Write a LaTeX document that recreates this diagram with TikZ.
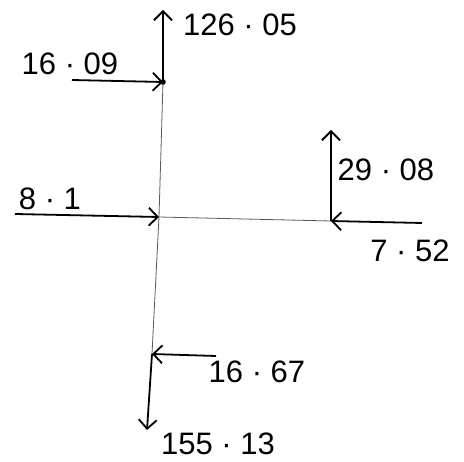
\documentclass[tikz,border=0pt]{standalone}
\usepackage{fontspec}
\setmainfont{Liberation Sans}
\usetikzlibrary{arrows.meta}
\begin{document}
\begin{tikzpicture}[x=1pt,y=-1pt,
  force/.style={line width=1.8pt,-{Straight Barb[length=9pt,width=18pt,line width=1.8pt]}},
  axis/.style={line width=0.8pt,draw=black!65},
  lbl/.style={font=\fontsize{31}{33}\selectfont,inner sep=0pt}]
\useasboundingbox (0,0) rectangle (464,462);
% points
\coordinate (A) at (163,82);
\coordinate (B) at (159,217);
\coordinate (C) at (331,221);
\coordinate (D) at (152,354);
\coordinate (Atop) at (163,10);
\coordinate (Aleft) at (72,80);
\coordinate (Bleft) at (15,214);
\coordinate (Cup) at (331,130);
\coordinate (Cright) at (422,223);
\coordinate (Dright) at (216,356);
\coordinate (Dbot) at (147,430);
% axes
\draw[axis] (A) -- (B) -- (D);
\draw[axis] (B) -- (C);
\fill (A) circle (2.8pt);
% forces
\draw[force] (A) -- (Atop);
\draw[force] (Aleft) -- (A);
\draw[force] (Bleft) -- (B);
\draw[force] (C) -- (Cup);
\draw[force] (Cright) -- (C);
\draw[force] (Dright) -- (D);
\draw[force] (D) -- (Dbot);
% labels
\node[lbl] (t1) at (240,25) {126 · 05};
\node[lbl] (t2) at (70,64) {16 · 09};
\node[lbl] (t3) at (50,199) {8 · 1};
\node[lbl] (t4) at (386,170) {29 · 08};
\node[lbl] (t5) at (410,251) {7 · 52};
\node[lbl] (t6) at (257,372) {16 · 67};
\node[lbl] (t7) at (218,444) {155 · 13};
\end{tikzpicture}
\end{document}
